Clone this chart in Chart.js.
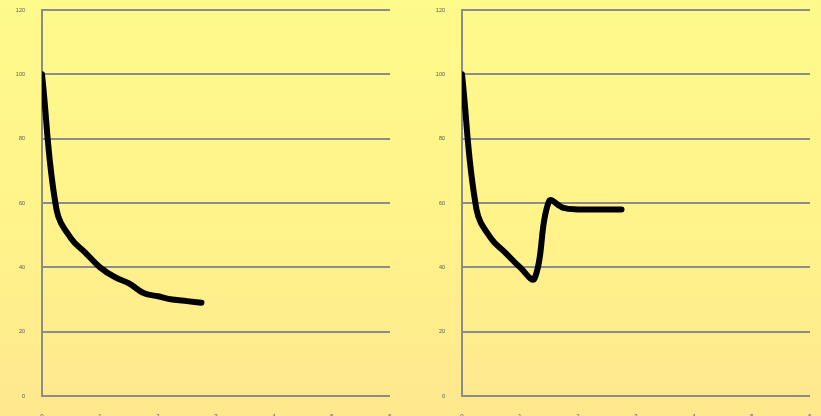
<!DOCTYPE html>
<html>
<head>
<meta charset="utf-8">
<script src="https://cdn.jsdelivr.net/npm/chart.js@4/dist/chart.umd.min.js"></script>
<style>
  html, body { margin: 0; padding: 0; width: 821px; height: 416px; overflow: hidden; }
  body { background: linear-gradient(to bottom, #fffa8c 0%, #fff48a 50%, #ffe88e 100%); position: relative; }
  .box { position: absolute; top: 0; width: 400px; height: 430px; }
  #left { left: 0; }
  #right { left: 420px; }
</style>
</head>
<body>
<div class="box" id="left"><canvas id="c1" width="400" height="430"></canvas></div>
<div class="box" id="right"><canvas id="c2" width="400" height="430"></canvas></div>
<script>
// sample positions along the x axis (quarter steps)
const steps = [0, 0.25, 0.5, 0.75, 1, 1.25, 1.5, 1.75, 2, 2.25, 2.5, 2.75];
// steady decay
const decayValues = [100, 58, 49, 44.5, 40, 37, 35, 32, 31, 30, 29.5, 29];
// decay, dip, then recovery to a plateau
const reboundValues = [100, 58, 49, 44.5, 40, 36.5, 60.5, 58.5, 58, 58, 58, 58];
const yTicks = [0, 20, 40, 60, 80, 100, 120];
const xTicks = [0, 1, 2, 3, 4, 5, 6];

const GRID = '#8c8c8c';

function makeChart(id, values) {
  const pts = steps.map((x, i) => ({ x: x, y: values[i] }));
  return new Chart(document.getElementById(id), {
    type: 'line',
    data: {
      datasets: [{
        data: pts,
        borderColor: '#000000',
        borderWidth: 6,
        pointRadius: 0,
        tension: 0.4,
        borderCapStyle: 'round',
        borderJoinStyle: 'round',
        fill: false
      }]
    },
    options: {
      responsive: false,
      animation: false,
      layout: { autoPadding: false, padding: { top: 10, right: 10, left: 0, bottom: 0 } },
      plugins: { legend: { display: false }, tooltip: { enabled: false } },
      scales: {
        x: {
          type: 'linear',
          min: 0, max: 6,
          afterBuildTicks: s => { s.ticks = xTicks.map(v => ({ value: v })); },
          afterFit: s => { s.height = 34; s.paddingLeft = 0; s.paddingRight = 0; },
          grid: { display: false, drawTicks: false },
          border: { display: false },
          ticks: { padding: 17, color: '#555555', font: { family: 'Liberation Sans', size: 6 } }
        },
        y: {
          min: 0, max: 120,
          afterBuildTicks: s => { s.ticks = yTicks.map(v => ({ value: v })); },
          afterFit: s => { s.width = 42; s.paddingTop = 0; s.paddingBottom = 0; },
          grid: { color: GRID, lineWidth: 2, drawTicks: false },
          border: { display: true, color: GRID, width: 2 },
          ticks: { padding: 17, color: '#555555', font: { family: 'Liberation Sans', size: 5.5 } }
        }
      }
    }
  });
}

makeChart('c1', decayValues);
makeChart('c2', reboundValues);
</script>
</body>
</html>
